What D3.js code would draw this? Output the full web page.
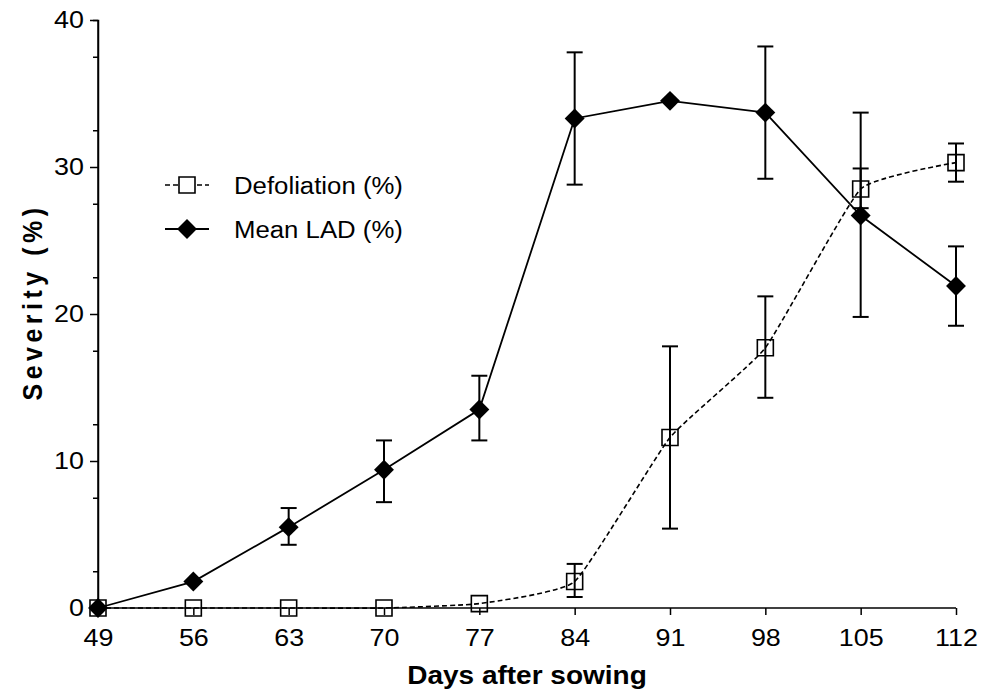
<!DOCTYPE html>
<html>
<head>
<meta charset="utf-8">
<script src="https://cdn.jsdelivr.net/npm/d3@7"></script>
<style>
  body { margin: 0; background: #fff; }
  svg text { font-family: "Liberation Sans", Arial, sans-serif; fill: #000; }
</style>
</head>
<body>
<div id="chart"></div>
<script>
// days after sowing
const days = [49, 56, 63, 70, 77, 84, 91, 98, 105, 112];

// Defoliation (%) mean and error (lower / upper ends), null = no bar
const defol = [0, 0, 0, 0, 0.3, 1.8, 11.6, 17.7, 28.5, 30.3];
const defolLo = [null, null, null, null, null, 0.75, 5.4, 14.3, 27.2, 29.0];
const defolHi = [null, null, null, null, null, 3.0, 17.8, 21.2, 29.9, 31.6];

// Mean LAD (%)
const lad = [0, 1.8, 5.5, 9.4, 13.5, 33.3, 34.5, 33.7, 26.7, 21.9];
const ladLo = [null, null, 4.3, 7.2, 11.4, 28.8, null, 29.2, 19.8, 19.2];
const ladHi = [null, null, 6.8, 11.4, 15.8, 37.8, null, 38.2, 33.7, 24.6];

const yTicks = [0, 10, 20, 30, 40];

const width = 989, height = 697;
const stretchX = 1.12; // the original text is a bit wider than the font

const svg = d3.select('#chart').append('svg')
    .attr('width', width)
    .attr('height', height);

// widen text horizontally to match the original
function stretch(sel) {
    sel.each(function() {
        const w = this.getComputedTextLength();
        d3.select(this).attr('textLength', w * stretchX).attr('lengthAdjust', 'spacingAndGlyphs');
    });
}

const x = d3.scaleLinear().domain([49, 112]).range([98, 956]);
const y = d3.scaleLinear().domain([0, 40]).range([608, 20]);

// axes
const yAxis = svg.append('g')
    .attr('transform', 'translate(98,0)')
    .call(d3.axisLeft(y).tickValues(yTicks).tickSize(8).tickPadding(6));
yAxis.append('g')
    .call(d3.axisLeft(y).tickValues(d3.range(2.5, 40, 5)).tickSize(5).tickFormat(''));

const xAxis = svg.append('g')
    .attr('transform', 'translate(0,608)')
    .call(d3.axisBottom(x).tickValues(days).tickSize(7).tickPadding(14));

svg.selectAll('.domain').attr('stroke', '#000').attr('stroke-width', 1.5);
svg.selectAll('.tick line').attr('stroke', '#000').attr('stroke-width', 1.5);
svg.selectAll('.tick text').style('font-size', '24px').call(stretch);
yAxis.select('.domain').attr('d', 'M0,608V20');
xAxis.select('.domain').attr('d', 'M98,0H956');

// axis titles
svg.append('text')
    .attr('x', 527).attr('y', 684)
    .attr('text-anchor', 'middle')
    .style('font-size', '25px').style('font-weight', 'bold')
    .text('Days after sowing')
    .call(stretch);
svg.append('text')
    .attr('transform', `translate(42,302) rotate(-90) scale(1,${stretchX})`)
    .attr('text-anchor', 'middle')
    .style('font-size', '25px').style('font-weight', 'bold')
    .style('letter-spacing', '4.5px')
    .text('Severity (%)');

const defolData = days.map((d, i) => ({ day: d, v: defol[i], lo: defolLo[i], hi: defolHi[i] }));
const ladData = days.map((d, i) => ({ day: d, v: lad[i], lo: ladLo[i], hi: ladHi[i] }));

// error bars
function errorBars(data, cls) {
    const g = svg.append('g').attr('class', cls)
        .attr('stroke', '#000').attr('stroke-width', 2);
    const bars = data.filter(d => d.lo !== null);
    g.selectAll('.stem').data(bars).enter().append('line')
        .attr('x1', d => x(d.day)).attr('x2', d => x(d.day))
        .attr('y1', d => y(d.lo)).attr('y2', d => y(d.hi));
    g.selectAll('.capHi').data(bars).enter().append('line')
        .attr('x1', d => x(d.day) - 8).attr('x2', d => x(d.day) + 8)
        .attr('y1', d => y(d.hi)).attr('y2', d => y(d.hi));
    g.selectAll('.capLo').data(bars).enter().append('line')
        .attr('x1', d => x(d.day) - 8).attr('x2', d => x(d.day) + 8)
        .attr('y1', d => y(d.lo)).attr('y2', d => y(d.lo));
}
errorBars(ladData, 'lad-err');
errorBars(defolData, 'defol-err');

// lines
const ladLine = d3.line().x(d => x(d.day)).y(d => y(d.v));
const defolLine = d3.line().x(d => x(d.day)).y(d => y(d.v)).curve(d3.curveCardinal.tension(0.6));

svg.append('path').datum(ladData)
    .attr('d', ladLine)
    .attr('fill', 'none').attr('stroke', '#000').attr('stroke-width', 1.8);
svg.append('path').datum(defolData)
    .attr('d', defolLine)
    .attr('fill', 'none').attr('stroke', '#000').attr('stroke-width', 1.6)
    .attr('stroke-dasharray', '5,3');

// markers
const square = d3.symbol().type(d3.symbolSquare).size(256);

svg.selectAll('.sq').data(defolData).enter().append('path')
    .attr('class', 'sq')
    .attr('transform', d => `translate(${x(d.day)},${y(d.v)})`)
    .attr('d', square)
    .attr('fill', 'none').attr('stroke', '#000').attr('stroke-width', 1.6);
svg.selectAll('.dm').data(ladData).enter().append('path')
    .attr('class', 'dm')
    .attr('d', square)
    .attr('transform', d => `translate(${x(d.day)},${y(d.v)}) rotate(45) scale(0.88)`)
    .attr('fill', '#000');

// legend
const legend = svg.append('g');
legend.append('line')
    .attr('x1', 165).attr('x2', 209).attr('y1', 185).attr('y2', 185)
    .attr('stroke', '#000').attr('stroke-width', 1.6).attr('stroke-dasharray', '5,3');
legend.append('path')
    .attr('transform', 'translate(187,185)')
    .attr('d', square)
    .attr('fill', '#fff').attr('stroke', '#000').attr('stroke-width', 1.6);
legend.append('text')
    .attr('x', 234).attr('y', 194)
    .style('font-size', '23px')
    .text('Defoliation (%)')
    .call(stretch);
legend.append('line')
    .attr('x1', 165).attr('x2', 209).attr('y1', 229).attr('y2', 229)
    .attr('stroke', '#000').attr('stroke-width', 1.8);
legend.append('path')
    .attr('transform', 'translate(187,229) rotate(45) scale(0.88)')
    .attr('d', square)
    .attr('fill', '#000');
legend.append('text')
    .attr('x', 234).attr('y', 238)
    .style('font-size', '23px')
    .text('Mean LAD (%)')
    .call(stretch);
</script>
</body>
</html>
